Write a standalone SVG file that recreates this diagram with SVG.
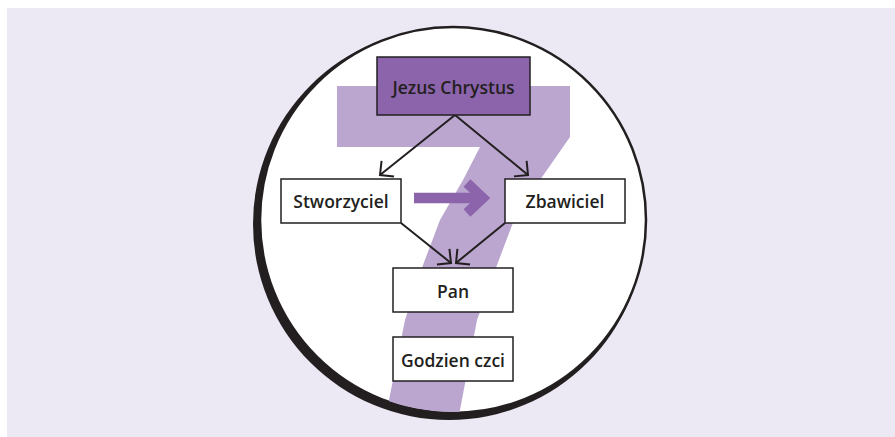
<svg xmlns="http://www.w3.org/2000/svg" width="895" height="437" viewBox="0 0 895 437">
<defs>
<style>
.box{stroke:#231f20;stroke-width:1.5}
.white{fill:#ffffff}
.lbl{font-family:"Open Sans","Noto Sans","Liberation Sans",sans-serif;font-size:17.5px;font-weight:600;fill:#231f20;text-anchor:middle}
.conn{stroke:#231f20;stroke-width:2;fill:none}
</style>
<marker id="ah" viewBox="-12 -12 14 24" markerWidth="14" markerHeight="24" refX="0" refY="0" orient="auto" markerUnits="userSpaceOnUse">
<path d="M-10,-10 L0,0 L-10,10" fill="none" stroke="#231f20" stroke-width="2"/>
</marker>
<clipPath id="cc"><circle cx="453" cy="220" r="192"/></clipPath>
</defs>
<rect x="0" y="0" width="895" height="437" fill="#ffffff"/>
<rect x="7" y="8" width="888" height="429" fill="#ece8f4"/>
<g id="badge">
<circle cx="449" cy="224" r="196" fill="#231f20"/>
<circle cx="453" cy="220" r="193" fill="#ffffff" stroke="#231f20" stroke-width="2.5"/>
<path clip-path="url(#cc)" fill="#bba6d0" d="M337,86 L570,86 L570,137 L540,180 L514,220 L497,265 L477,320 L460,410 L455,440 L382,440 L387,410 L405,320 L423,265 L440,220 L463,180 L480,147 L337,147 Z"/>
</g>
<g id="connectors">
<line class="conn" x1="455" y1="115" x2="380" y2="175" marker-end="url(#ah)"/>
<line class="conn" x1="455" y1="115" x2="528" y2="175" marker-end="url(#ah)"/>
<line class="conn" x1="401" y1="223" x2="451" y2="263" marker-end="url(#ah)"/>
<line class="conn" x1="505" y1="223" x2="456" y2="263" marker-end="url(#ah)"/>
<g id="transition-arrow">
<line x1="414" y1="198" x2="484" y2="198" stroke="#8c64ab" stroke-width="10.5"/>
<path d="M467,183 L483,198 L467,213" fill="none" stroke="#8c64ab" stroke-width="10"/>
</g>
</g>
<g id="jezus">
<rect class="box" x="377" y="57" width="153" height="58" fill="#8c64ab"/>
<text class="lbl" x="453.5" y="94">Jezus Chrystus</text>
</g>
<g id="stworzyciel">
<rect class="box white" x="281" y="179" width="120" height="44"/>
<text class="lbl" x="341" y="208">Stworzyciel</text>
</g>
<g id="zbawiciel">
<rect class="box white" x="505" y="179" width="120" height="44"/>
<text class="lbl" x="565" y="208">Zbawiciel</text>
</g>
<g id="pan">
<rect class="box white" x="393" y="268" width="120" height="44"/>
<text class="lbl" x="453" y="298">Pan</text>
</g>
<g id="godzien">
<rect class="box white" x="393" y="337" width="120" height="44"/>
<text class="lbl" x="453" y="367">Godzien czci</text>
</g>
</svg>
